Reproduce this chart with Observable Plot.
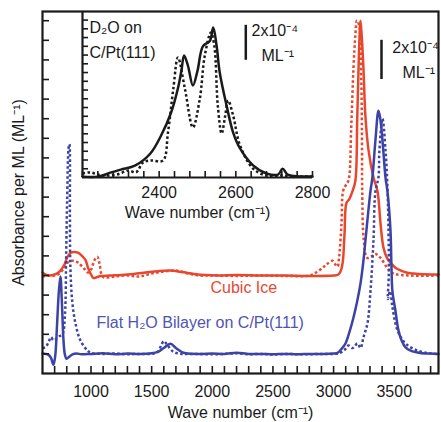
<!DOCTYPE html>
<html><head><meta charset="utf-8">
<script src="https://cdn.jsdelivr.net/npm/d3@7"></script>
<script src="https://cdn.jsdelivr.net/npm/@observablehq/plot@0.6"></script>
<style>
body{margin:0;background:#fff;}
#wrap{position:relative;width:441px;height:422px;}
#wrap svg{position:absolute;left:0;top:0;}
</style></head><body><div id="wrap"></div>
<script>
// ---- Main panel data: wave number (cm-1), absorbance per ML (units of 1e-4 ML-1, offset) ----
const bilayerSolid = [[600,1.02],[625,1.0],[650,0.95],[670,0.8],[690,0.45],[705,0.9],[720,2.5],[735,4.2],[748,4.95],[760,3.6],[773,1.7],[785,0.95],[798,0.75],[820,0.85],[847,0.97],[880,1.02],[920,0.98],[1000,1.0],[1100,1.03],[1200,0.98],[1300,1.02],[1400,1.0],[1500,1.03],[1550,1.1],[1600,1.3],[1655,1.52],[1700,1.3],[1754,1.08],[1800,1.02],[1900,1.0],[2000,1.02],[2100,1.0],[2200,1.06],[2300,1.0],[2400,1.0],[2500,0.98],[2600,1.0],[2700,0.98],[2800,1.0],[2900,1.0],[3000,1.02],[3032,1.05],[3065,1.25],[3098,1.53],[3130,2.1],[3164,2.86],[3195,3.7],[3222,4.6],[3245,5.7],[3263,6.8],[3285,8.2],[3304,9.3],[3320,10.0],[3345,11.9],[3370,13.4],[3385,13.0],[3403,11.9],[3428,10.0],[3444,9.3],[3469,7.3],[3477,5.5],[3485,4.2],[3510,3.2],[3535,2.2],[3560,1.7],[3593,1.33],[3640,1.15],[3692,1.07],[3750,1.02],[3800,1.02],[3865,1.0]];
const bilayerDotted = [[600,1.3],[625,1.35],[650,1.6],[670,1.85],[690,1.7],[710,1.75],[740,1.9],[765,2.0],[785,3.0],[795,6.0],[803,8.8],[815,11.5],[822,11.7],[826,8.0],[830,5.4],[845,3.7],[872,2.55],[913,1.68],[971,1.17],[1000,1.05],[1100,1.0],[1200,1.02],[1300,0.98],[1400,1.0],[1500,1.0],[1550,1.1],[1580,1.45],[1600,1.65],[1630,1.45],[1680,1.1],[1750,1.0],[1850,1.0],[2000,0.98],[2100,1.0],[2200,1.03],[2300,0.98],[2400,1.0],[2500,0.97],[2600,1.0],[2700,0.98],[2800,0.98],[2900,1.0],[3000,1.0],[3050,1.05],[3090,1.2],[3123,1.43],[3156,1.3],[3197,1.53],[3222,1.3],[3246,1.84],[3279,2.55],[3304,4.2],[3329,6.8],[3345,9.3],[3370,10.0],[3378,11.4],[3403,13.0],[3428,11.4],[3444,9.5],[3452,7.6],[3455,5.0],[3448,3.8],[3466,4.2],[3485,3.4],[3527,2.2],[3593,1.53],[3692,1.17],[3800,1.02],[3865,1.0]];
const iceSolid = [[600,5.15],[625,5.05],[650,5.0],[700,5.05],[740,5.2],[780,5.55],[806,5.95],[830,6.15],[860,6.2],[897,6.15],[925,6.0],[954,5.8],[975,5.4],[996,5.1],[1020,4.87],[1050,4.92],[1078,4.97],[1150,5.0],[1250,5.03],[1350,5.08],[1450,5.15],[1550,5.22],[1650,5.25],[1750,5.18],[1850,5.08],[1950,5.02],[2050,5.0],[2200,5.02],[2400,5.0],[2600,5.0],[2800,4.98],[3000,5.0],[3040,5.05],[3057,5.2],[3075,5.66],[3090,7.1],[3106,8.7],[3130,8.9],[3156,9.3],[3180,9.85],[3195,13.0],[3210,16.5],[3222,18.0],[3232,17.2],[3246,15.6],[3263,13.06],[3288,11.4],[3329,10.0],[3362,9.3],[3387,7.65],[3411,6.43],[3440,5.9],[3469,5.66],[3510,5.4],[3551,5.26],[3600,5.15],[3659,5.1],[3750,5.06],[3865,5.05]];
const iceDotted = [[600,4.95],[650,5.0],[700,5.0],[740,5.1],[780,5.4],[806,5.65],[847,5.75],[880,5.7],[897,5.65],[920,5.5],[950,5.3],[975,5.15],[1000,5.3],[1030,5.8],[1053,5.95],[1070,5.6],[1090,5.0],[1110,4.9],[1200,4.95],[1300,5.0],[1400,4.95],[1500,5.1],[1600,5.2],[1700,5.25],[1800,5.1],[1900,5.0],[2000,5.0],[2200,4.98],[2400,5.0],[2600,4.98],[2800,5.0],[2867,5.2],[2920,5.45],[2949,5.6],[2990,5.75],[3010,5.6],[3032,5.45],[3045,5.9],[3065,7.6],[3078,9.3],[3100,9.6],[3123,9.85],[3145,12.5],[3164,15.6],[3180,17.3],[3192,18.0],[3210,17.8],[3228,15.0],[3234,12.0],[3236,9.3],[3249,6.8],[3277,5.9],[3318,6.0],[3345,6.1],[3387,5.9],[3442,5.4],[3496,5.1],[3634,5.0],[3865,5.0]];

// ---- Inset data: D2O on C/Pt(111) ----
const d2oSolid = [[2200,0.05],[2240,0.05],[2275,0.29],[2300,0.45],[2338,0.69],[2377,1.37],[2405,2.4],[2431,3.7],[2449,5.1],[2458,6.1],[2465,6.97],[2475,6.4],[2488,5.26],[2500,6.1],[2514,7.5],[2532,7.8],[2541,8.57],[2550,7.5],[2558,6.0],[2576,4.1],[2593,2.57],[2611,1.66],[2645,0.69],[2680,0.23],[2710,0.17],[2722,0.5],[2735,0.17],[2766,0.06],[2800,0.06]];
const d2oDotted = [[2200,0.23],[2220,0.29],[2240,0.17],[2260,0.11],[2290,0.17],[2320,0.4],[2340,0.3],[2358,0.86],[2379,0.97],[2410,0.97],[2423,2.57],[2437,5.09],[2449,6.86],[2467,5.09],[2488,2.86],[2506,4.5],[2519,6.97],[2535,8.29],[2544,7.5],[2553,4.1],[2563,2.51],[2572,3.5],[2580,4.4],[2593,3.54],[2611,1.83],[2645,0.51],[2680,0.11],[2720,0.11],[2760,0.06],[2800,0.06]];

// ---- Ticks and labels ----
const xTicks = d3.range(700, 3900, 100);
const xTickLabels = [1000, 1500, 2000, 2500, 3000, 3500];
const yTicks = d3.range(1, 19, 1);
const insetXTicks = d3.range(2200, 2801, 40);
const insetXTickLabels = [2400, 2600, 2800];
const insetYTicks = d3.range(0.5, 9.5, 0.5);
const scaleBar = [15, 17];        // 2x10^-4 ML^-1
const insetScaleBar = [6.7, 8.7]; // 2x10^-4 ML^-1

const RED = "#e8472e", BLUE = "#3d42a6", RED_T = "#e54a32", BLUE_T = "#4f55b3", INK = "#1a1a1a";
const FONT = "'Liberation Sans', Arial, Helvetica, sans-serif";
const W = 441, H = 422;
const mL = 42, mR = 3, mT = 11, mB = 49;
const plotW = W - mL - mR, plotH = H - mT - mB;
const XY = {x: d => d[0], y: d => d[1]};
const dash = "2.6,2.4";
const T = {fontSize: 16, fill: INK, lineAnchor: "middle"};

const main = Plot.plot({
  width: W, height: H,
  marginLeft: mL, marginRight: mR, marginTop: mT, marginBottom: mB,
  x: {domain: [600, 3865], axis: null},
  y: {domain: [0, 18.47], axis: null},
  style: {fontFamily: FONT, fontSize: "16px", background: "transparent", color: INK},
  marks: [
    Plot.line(iceDotted, {...XY, stroke: RED, strokeWidth: 2.5, strokeDasharray: dash, strokeLinecap: "butt", curve: "catmull-rom"}),
    Plot.line(iceSolid, {...XY, stroke: RED, strokeWidth: 2.5, curve: "catmull-rom"}),
    Plot.line(bilayerDotted, {...XY, stroke: BLUE, strokeWidth: 2.5, strokeDasharray: dash, strokeLinecap: "butt", curve: "catmull-rom"}),
    Plot.line(bilayerSolid, {...XY, stroke: BLUE, strokeWidth: 2.5, curve: "catmull-rom"}),
    Plot.tickX(xTicks, {x: d => d, insetTop: plotH - 7, strokeWidth: 1.6, stroke: INK}),
    Plot.tickY(yTicks, {y: d => d, insetRight: plotW - 7, strokeWidth: 1.6, stroke: INK}),
    Plot.frame({stroke: INK, strokeWidth: 2.2}),
    Plot.text(xTickLabels, {...T, x: d => d, text: d => String(d), frameAnchor: "bottom", dy: 18}),
    Plot.text(["Wave number (cm⁻¹)"], {...T, frameAnchor: "bottom", dy: 39}),
    Plot.text(["Absorbance per ML (ML⁻¹)"], {...T, frameAnchor: "left", textAnchor: "middle", rotate: -90, dx: -24}),
    Plot.ruleX([3395], {y1: scaleBar[0], y2: scaleBar[1], strokeWidth: 2.5, stroke: INK}),
    Plot.text(["2x10⁻⁴"], {...T, x: 3484, y: 16.63, textAnchor: "start"}),
    Plot.text(["ML⁻¹"], {...T, x: 3568, y: 15.36, textAnchor: "start"}),
    Plot.text(["Cubic Ice"], {...T, x: 1985, y: 4.39, textAnchor: "start", fill: RED_T}),
    Plot.text(["Flat H₂O Bilayer on C/Pt(111)"], {...T, x: 1045, y: 2.6, textAnchor: "start", fill: BLUE_T})
  ]
});

const iH = 230, imL = 82, imR = 129, imT = 11, imB = 53;
const iW = W - imL - imR, iPH = iH - imT - imB;
const inset = Plot.plot({
  width: W, height: iH,
  marginLeft: imL, marginRight: imR, marginTop: imT, marginBottom: imB,
  x: {domain: [2200, 2800], axis: null},
  y: {domain: [0, 9.49], axis: null},
  style: {fontFamily: FONT, fontSize: "16px", background: "transparent", color: INK},
  marks: [
    Plot.line(d2oDotted, {...XY, stroke: INK, strokeWidth: 2.5, strokeDasharray: dash, strokeLinecap: "butt", curve: "catmull-rom"}),
    Plot.line(d2oSolid, {...XY, stroke: INK, strokeWidth: 2.5, curve: "catmull-rom"}),
    Plot.tickX(insetXTicks, {x: d => d, insetTop: iPH - 6, strokeWidth: 1.6, stroke: INK}),
    Plot.tickY(insetYTicks, {y: d => d, insetRight: iW - 6, strokeWidth: 1.6, stroke: INK}),
    Plot.ruleX([2200], {strokeWidth: 2.2, stroke: INK}),
    Plot.ruleY([0], {strokeWidth: 2.2, stroke: INK}),
    Plot.text(insetXTickLabels, {...T, x: d => d, text: d => String(d), frameAnchor: "bottom", dy: 15}),
    Plot.text(["Wave number (cm⁻¹)"], {...T, frameAnchor: "bottom", dy: 35}),
    Plot.text(["D₂O on"], {...T, x: 2218, y: 8.57, textAnchor: "start"}),
    Plot.text(["C/Pt(111)"], {...T, x: 2218, y: 7.14, textAnchor: "start"}),
    Plot.ruleX([2626], {y1: insetScaleBar[0], y2: insetScaleBar[1], strokeWidth: 2.5, stroke: INK}),
    Plot.text(["2x10⁻⁴"], {...T, x: 2641, y: 8.4, textAnchor: "start"}),
    Plot.text(["ML⁻¹"], {...T, x: 2667, y: 6.97, textAnchor: "start"})
  ]
});

const wrap = document.getElementById("wrap");
wrap.appendChild(main);
wrap.appendChild(inset);
</script></body></html>
